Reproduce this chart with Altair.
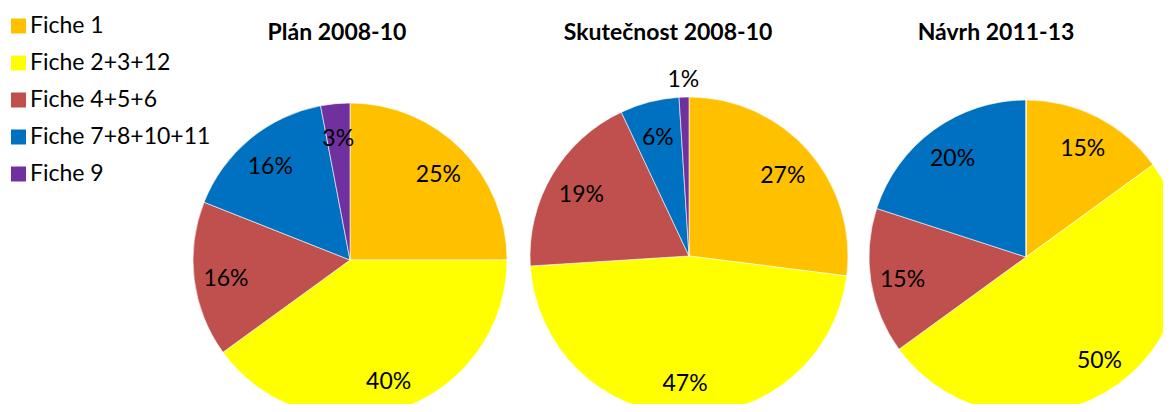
import altair as alt
import pandas as pd

categories = ["Fiche 1", "Fiche 2+3+12", "Fiche 4+5+6", "Fiche 7+8+10+11", "Fiche 9"]
colors = ["#FFC000", "#FFFF00", "#C0504D", "#0070C0", "#7030A0"]
pies = ["Plán 2008-10", "Skutečnost 2008-10", "Návrh 2011-13"]
plan = [25, 40, 16, 16, 3]
skutecnost = [27, 47, 19, 6, 1]
navrh = [15, 50, 15, 20, 0]

series = [plan, skutecnost, navrh]
rows = []
for p, vals in zip(pies, series):
    for i, (c, v) in enumerate(zip(categories, vals)):
        rows.append({"pie": p, "cat": c, "order": i, "value": v})
df = pd.DataFrame(rows)

# layout (chart pixel coords)
centers = [(342, 252, 157), (681, 248, 159), (1018, 249, 157)]
title_x = [329, 660, 988]

FONT = "Lato"
FS = 23
theta_scale = alt.Scale(domain=[0, 100])
color_scale = alt.Scale(domain=categories, range=colors)

base = alt.Chart(df)
layers = []
for k, (p, (cx, cy, R)) in enumerate(zip(pies, centers)):
    b = (
        base.transform_filter(alt.datum.pie == p)
        .transform_window(cum="sum(value)", sort=[alt.SortField("order")], frame=[None, 0])
        .transform_calculate(
            start="datum.cum - datum.value",
            mid="datum.cum - datum.value / 2",
            label="datum.value + '%'",
        )
    )
    arc = b.mark_arc(radius=R, stroke="white", strokeWidth=0.6).encode(
        theta=alt.Theta("start:Q", scale=theta_scale, stack=None),
        theta2="cum:Q",
        color=alt.Color(
            "cat:N",
            scale=color_scale,
            legend=alt.Legend(
                orient="none", legendX=-1, legendY=6.5, title=None,
                symbolType="square", symbolSize=225, symbolStrokeWidth=0,
                labelFont=FONT, labelFontSize=FS, labelColor="#000000",
                labelOffset=0, labelLimit=0, rowPadding=13, padding=0,
            ) if k == 0 else None,
        ),
        x=alt.value(cx),
        y=alt.value(cy),
    )
    inner = b.transform_filter("datum.value >= 2").mark_text(
        radius=125, font=FONT, fontSize=FS, color="black", dy=3
    ).encode(
        theta=alt.Theta("mid:Q", scale=theta_scale, stack=None),
        text="label:N",
        x=alt.value(cx),
        y=alt.value(cy),
    )
    outer = b.transform_filter("datum.value > 0 && datum.value < 2").mark_text(
        radius=179, font=FONT, fontSize=FS, color="black", dy=3
    ).encode(
        theta=alt.Theta("mid:Q", scale=theta_scale, stack=None),
        text="label:N",
        x=alt.value(cx),
        y=alt.value(cy),
    )
    title = alt.Chart(pd.DataFrame({"t": [p]})).mark_text(
        font=FONT, fontSize=FS, fontWeight="bold", color="black"
    ).encode(text="t:N", x=alt.value(title_x[k]), y=alt.value(25))
    layers += [arc, inner, outer, title]

chart = alt.layer(*layers).properties(
    width=1155, height=396, padding=0,
    autosize=alt.AutoSizeParams(type="none"),
    background="white",
).configure_view(stroke=None)

chart.save("out.html", embed_options={"renderer": "svg", "actions": False})
